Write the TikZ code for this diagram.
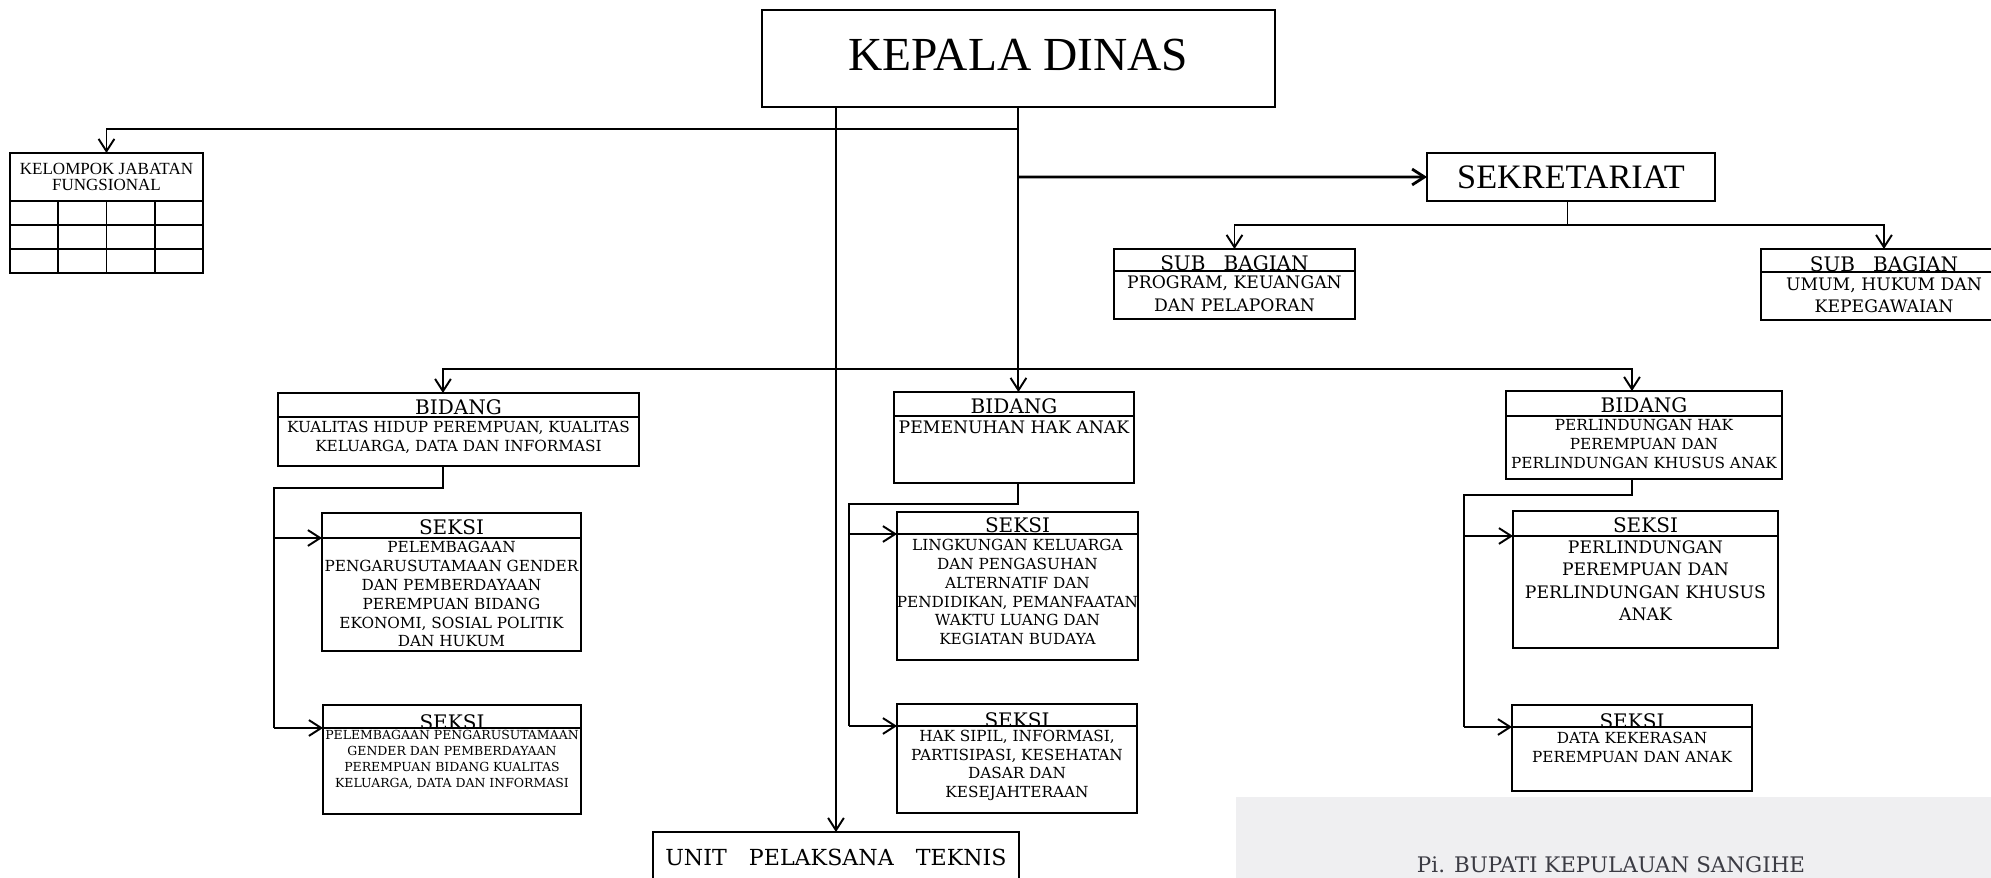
\documentclass[tikz,border=0pt]{standalone}
\usepackage{fontspec}
\setmainfont{DejaVu Serif}
\newfontfamily\timesf{Liberation Serif}
\usetikzlibrary{arrows.meta}
\definecolor{scanbg}{HTML}{EFEFF1}
\definecolor{scanink}{HTML}{3C3C44}
\newcommand\judulfont{\fontsize{11.4pt}{13pt}\selectfont}
\newcommand\isifont{\fontsize{8.7pt}{10.7pt}\selectfont}
\newcommand\kecilfont{\fontsize{7.1pt}{9pt}\selectfont}
\newcommand\besarfont{\fontsize{9.8pt}{12.7pt}\selectfont}

\begin{document}
\begin{tikzpicture}[x=0.02cm, y=-0.02cm, line width=1.1pt,
  >={Straight Barb[length=7pt,width=9pt]},
  kotak/.style={draw, line width=1.1pt, inner sep=0pt, outer sep=0pt, anchor=north west},
  kepala/.style={kotak, font=\judulfont, text height=10.5pt, text depth=0pt},
  badan/.style={kotak, fill=white},
  isi/.style={anchor=north, align=center, inner sep=0pt}]
  \useasboundingbox (0,0) rectangle (1991,878);
  \clip (0,0) rectangle (1991,878);

  % tanda tangan (hasil scan)
  \fill[scanbg] (1236,797) rectangle (1991,878);
  \node[anchor=base west, inner sep=0pt, text=scanink, font=\fontsize{12.2pt}{14pt}\selectfont] (ttd) at (1416,872) {Pi. BUPATI KEPULAUAN SANGIHE};

  % pimpinan
  \node[kotak, minimum width=10.26cm, minimum height=1.94cm, text depth=4.6pt, font=\timesf\fontsize{27pt}{30pt}\selectfont] (kd) at (762,10) {KEPALA DINAS};
  \node[kotak, minimum width=5.76cm, minimum height=0.96cm, font=\timesf\fontsize{19.5pt}{22pt}\selectfont] (sek) at (1427,153) {SEKRETARIAT};

  % kelompok jabatan fungsional
  \node[kotak, minimum width=3.86cm, minimum height=0.96cm, align=center, font=\timesf\fontsize{9.7pt}{9.6pt}\selectfont] (kjf) at (10,153) {KELOMPOK JABATAN\\FUNGSIONAL};
  \foreach \i in {0,...,3}
    \foreach \j in {0,...,2}
      \node[kotak, minimum width=0.965cm, minimum height=0.48cm] (kjf\i\j) at (10+48.25*\i,201+24*\j) {};

  % sub bagian
  \node[kepala, minimum width=4.82cm, minimum height=0.44cm] (sb1h) at (1114,249) {\raisebox{-0.8pt}{SUB\hspace{0.9em}BAGIAN}};
  \node[badan, minimum width=4.82cm, minimum height=0.96cm] (sb1) at (sb1h.south west) {};
  \node[isi, font=\besarfont] (sb1t) at ([yshift=-2.4pt]sb1.north) {PROGRAM, KEUANGAN\\DAN PELAPORAN};

  \node[kepala, minimum width=4.92cm, minimum height=0.46cm] (sb2h) at (1761,249) {\raisebox{-0.8pt}{SUB\hspace{0.9em}BAGIAN}};
  \node[badan, minimum width=4.92cm, minimum height=0.96cm] (sb2) at (sb2h.south west) {};
  \node[isi, font=\besarfont] (sb2t) at ([yshift=-2.7pt]sb2.north) {UMUM, HUKUM DAN\\KEPEGAWAIAN};

  % bidang
  \node[kepala, minimum width=7.22cm, minimum height=0.48cm] (b1h) at (278,393) {BIDANG};
  \node[badan, minimum width=7.22cm, minimum height=0.98cm] (b1) at (b1h.south west) {};
  \node[isi, font=\isifont] (b1t) at ([yshift=-2pt]b1.north) {KUALITAS HIDUP PEREMPUAN, KUALITAS\\KELUARGA, DATA DAN INFORMASI};

  \node[kepala, minimum width=4.80cm, minimum height=0.48cm] (b2h) at (894,392) {BIDANG};
  \node[badan, minimum width=4.80cm, minimum height=1.34cm] (b2) at (b2h.south west) {};
  \node[isi, font=\besarfont] (b2t) at ([yshift=-2.2pt]b2.north) {PEMENUHAN HAK ANAK};

  \node[kepala, minimum width=5.52cm, minimum height=0.50cm] (b3h) at (1506,391) {BIDANG};
  \node[badan, minimum width=5.52cm, minimum height=1.26cm] (b3) at (b3h.south west) {};
  \node[isi, font=\isifont] (b3t) at ([yshift=-1.2pt]b3.north) {PERLINDUNGAN HAK\\PEREMPUAN DAN\\PERLINDUNGAN KHUSUS ANAK};

  % seksi
  \node[kepala, minimum width=5.18cm, minimum height=0.50cm] (s1ah) at (322,513) {SEKSI};
  \node[badan, minimum width=5.18cm, minimum height=2.26cm] (s1a) at (s1ah.south west) {};
  \node[isi, font=\isifont] (s1at) at ([yshift=-1.5pt]s1a.north) {PELEMBAGAAN\\PENGARUSUTAMAAN GENDER\\DAN PEMBERDAYAAN\\PEREMPUAN BIDANG\\EKONOMI, SOSIAL POLITIK\\DAN HUKUM};

  \node[kepala, minimum width=5.16cm, minimum height=0.46cm] (s1bh) at (323,705) {\raisebox{-2pt}{SEKSI}};
  \node[badan, minimum width=5.16cm, minimum height=1.72cm] (s1b) at (s1bh.south west) {};
  \node[isi, font=\kecilfont] (s1bt) at ([yshift=-0.8pt]s1b.north) {PELEMBAGAAN PENGARUSUTAMAAN\\GENDER DAN PEMBERDAYAAN\\PEREMPUAN BIDANG KUALITAS\\KELUARGA, DATA DAN INFORMASI};

  \node[kepala, minimum width=4.82cm, minimum height=0.44cm] (s2ah) at (897,512) {SEKSI};
  \node[badan, minimum width=4.82cm, minimum height=2.52cm] (s2a) at (s2ah.south west) {};
  \node[isi, font=\isifont] (s2at) at ([yshift=-2.5pt]s2a.north) {LINGKUNGAN KELUARGA\\DAN PENGASUHAN\\ALTERNATIF DAN\\PENDIDIKAN, PEMANFAATAN\\WAKTU LUANG DAN\\KEGIATAN BUDAYA};

  \node[kepala, minimum width=4.80cm, minimum height=0.44cm] (s2bh) at (897,704) {\raisebox{-2pt}{SEKSI}};
  \node[badan, minimum width=4.80cm, minimum height=1.74cm] (s2b) at (s2bh.south west) {};
  \node[isi, font=\isifont] (s2bt) at ([yshift=-1.7pt]s2b.north) {HAK SIPIL, INFORMASI,\\PARTISIPASI, KESEHATAN\\DASAR DAN\\KESEJAHTERAAN};

  \node[kepala, minimum width=5.30cm, minimum height=0.50cm] (s3ah) at (1513,511) {SEKSI};
  \node[badan, minimum width=5.30cm, minimum height=2.24cm] (s3a) at (s3ah.south west) {};
  \node[isi, font=\besarfont] (s3at) at ([yshift=-2.2pt]s3a.north) {PERLINDUNGAN\\PEREMPUAN DAN\\PERLINDUNGAN KHUSUS\\ANAK};

  \node[kepala, minimum width=4.80cm, minimum height=0.44cm] (s3bh) at (1512,705) {\raisebox{-2pt}{SEKSI}};
  \node[badan, minimum width=4.80cm, minimum height=1.28cm] (s3b) at (s3bh.south west) {};
  \node[isi, font=\isifont] (s3bt) at ([yshift=-2.6pt]s3b.north) {DATA KEKERASAN\\PEREMPUAN DAN ANAK};

  % unit pelaksana teknis
  \node[kotak, minimum width=7.32cm, minimum height=1.02cm, font=\fontsize{12.6pt}{14pt}\selectfont] (upt) at (653,832) {UNIT\hspace{1em}PELAKSANA\hspace{1em}TEKNIS};

  % garis
  \coordinate (jf) at (1018.5,129);
  \coordinate (js) at (1018.5,177);
  \coordinate (jb) at (1018.5,369);
  \coordinate (l1) at (274,488);
  \coordinate (l2) at (849,504);
  \coordinate (l3) at (1464,495);

  \draw[->] (kd.south) -- (kd.south |- b2h.north);
  \draw[->] (kd.south -| upt.north) -- (upt.north);
  \draw[->] (jf) -| (kjf.north);
  \draw[->, line width=1.6pt] (js) -- (sek.west);
  \draw[->] ([xshift=-0.07cm]sek.south) -- ++(0,24) -| (sb1h.north);
  \draw[->] ([xshift=-0.07cm]sek.south) ++(0,24) -| (sb2h.north);
  \draw[->] (jb) -| ([xshift=-0.31cm]b1h.north);
  \draw[->] (jb) -| ([xshift=-0.24cm]b3h.north);

  \draw ([xshift=-0.31cm]b1.south) |- (l1) -- (l1 |- s1bh.south west);
  \draw[->] (l1 |- s1ah.south west) -- (s1ah.south west);
  \draw[->] (l1 |- s1bh.south west) -- (s1bh.south west);

  \draw (kd.south |- b2.south) |- (l2) -- (l2 |- s2bh.south west);
  \draw[->] (l2 |- s2ah.south west) -- (s2ah.south west);
  \draw[->] (l2 |- s2bh.south west) -- (s2bh.south west);

  \draw ([xshift=-0.24cm]b3.south) |- (l3) -- (l3 |- s3bh.south west);
  \draw[->] (l3 |- s3ah.south west) -- (s3ah.south west);
  \draw[->] (l3 |- s3bh.south west) -- (s3bh.south west);
\end{tikzpicture}
\end{document}
